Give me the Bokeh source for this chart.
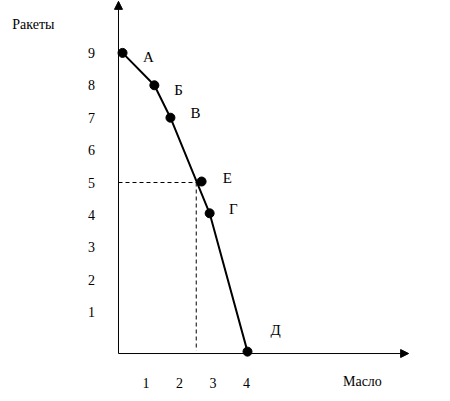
from bokeh.plotting import figure
from bokeh.models import Range1d, Arrow, NormalHead
from bokeh.core.properties import value
from bokeh.embed import file_html
from bokeh.resources import INLINE

# data
maslo = [0.30, 1.25, 1.73, 2.90, 4.03]          # curve points (x)
rakety = [9.0, 8.0, 7.0, 4.05, -0.22]           # curve points (y)
point_names = ["А", "Б", "В", "Г", "Д"]
e_point_x = [2.66]
e_point_y = [5.03]
e_name = ["Е"]
ref_x = 2.5
ref_y = 5.0
y_tick_labels = ["9", "8", "7", "6", "5", "4", "3", "2", "1"]
y_tick_values = [9, 8, 7, 6, 5, 4, 3, 2, 1]
x_tick_labels = ["1", "2", "3", "4"]
x_tick_values = [1, 2, 3, 4]
y_title = "Ракеты"
x_title = "Масло"

# layout constants
AX_X = 0.179   # where vertical axis line is
AX_Y = -0.278  # where horizontal axis line is
FONT = value("Liberation Serif")

p = figure(width=434, height=393, output_backend="svg", toolbar_location=None,
           x_range=Range1d(-3.343, 9.612), y_range=Range1d(-1.512, 10.617),
           x_axis_location=None, y_axis_location=None, min_border=0)
p.outline_line_color = None
p.grid.visible = False
p.background_fill_color = "white"

# axes with arrows
p.add_layout(Arrow(x_start=AX_X, y_start=AX_Y, x_end=AX_X, y_end=10.59,
                   line_width=1, line_color="black",
                   end=NormalHead(size=8, fill_color="black", line_color="black")))
p.add_layout(Arrow(x_start=AX_X, y_start=AX_Y, x_end=8.84, y_end=AX_Y,
                   line_width=1, line_color="black",
                   end=NormalHead(size=8, fill_color="black", line_color="black")))

# dashed reference lines
p.line([AX_X, ref_x], [ref_y, ref_y], line_color="black", line_width=1, line_dash="4 3")
p.line([ref_x, ref_x], [ref_y, -0.19], line_color="black", line_width=1, line_dash="4 3")

# curve
p.line(maslo, rakety, line_color="black", line_width=2)
p.scatter(maslo, rakety, size=9, fill_color="black", line_color="black")
p.scatter(e_point_x, e_point_y, size=9, fill_color="black", line_color="black")

# point labels
lab_dx = [0.77, 0.72, 0.75, 0.71, 0.84]
lab_dy = [-0.14, -0.13, 0.16, 0.13, 0.68]
lx = [m + d for m, d in zip(maslo, lab_dx)]
ly = [r + d for r, d in zip(rakety, lab_dy)]
p.text(lx, ly, text=point_names, text_font=FONT, text_font_size="15px",
       text_align="center", text_baseline="middle", text_color="black")
p.text([e_point_x[0] + 0.77], [e_point_y[0] + 0.12], text=e_name, text_font=FONT,
       text_font_size="15px", text_align="center", text_baseline="middle", text_color="black")

# tick labels
p.text([-0.627] * len(y_tick_values), y_tick_values, text=y_tick_labels, text_font=FONT,
       text_font_size="14px", text_align="center", text_baseline="middle", text_color="black")
p.text(x_tick_values, [-1.20] * len(x_tick_values), text=x_tick_labels, text_font=FONT,
       text_font_size="14px", text_align="center", text_baseline="middle", text_color="black")

# axis titles
p.text([-2.36], [9.88], text=[y_title], text_font=FONT, text_font_size="14px",
       text_align="center", text_baseline="middle", text_color="black")
p.text([7.46], [-1.14], text=[x_title], text_font=FONT, text_font_size="14px",
       text_align="center", text_baseline="middle", text_color="black")

open("out.html", "w").write(file_html(p, INLINE))
